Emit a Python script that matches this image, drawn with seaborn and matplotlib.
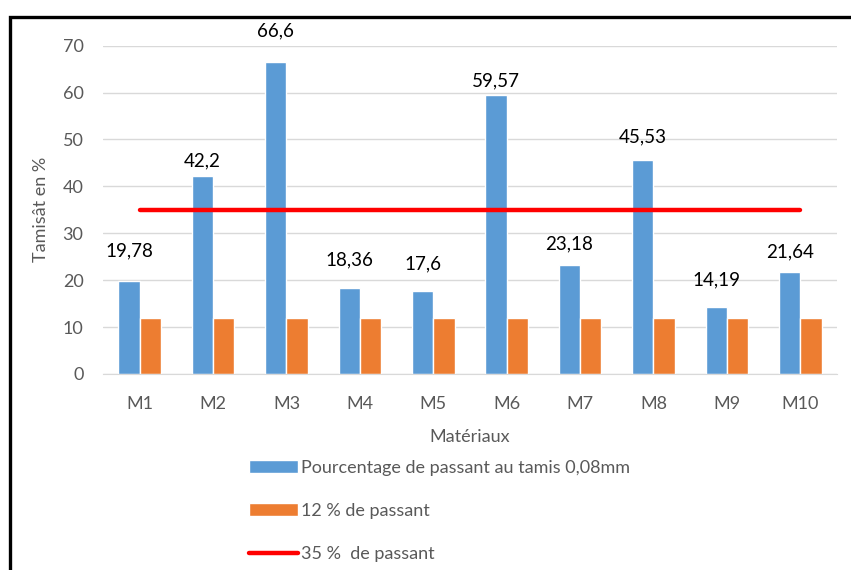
import numpy as np
import pandas as pd
import matplotlib
matplotlib.use("Agg")
import matplotlib.pyplot as plt
import seaborn as sns
from matplotlib.patches import Patch, Rectangle
from matplotlib.lines import Line2D

# === DATA ===
materiaux = ["M1", "M2", "M3", "M4", "M5", "M6", "M7", "M8", "M9", "M10"]
passant_008 = [19.78, 42.2, 66.6, 18.36, 17.6, 59.57, 23.18, 45.53, 14.19, 21.64]
seuil_12 = [12] * len(materiaux)
seuil_35 = [35] * len(materiaux)
noms = ["Pourcentage de passant au tamis 0,08mm", "12 % de passant", "35 %  de passant"]
# vertical gap (points) between each blue bar top and its value label
label_gap = [22, 11, 22, 20, 20, 10, 15, 17, 20, 15]

df = pd.DataFrame({
    "Matériau": materiaux * 2,
    "Valeur": passant_008 + seuil_12,
    "Série": [noms[0]] * len(materiaux) + [noms[1]] * len(materiaux),
})

sns.set_style("white")
plt.rcParams["font.family"] = ["Lato", "DejaVu Sans"]

blue = "#5B9BD5"
orange = "#ED7D31"
grey = "#595959"

fig = plt.figure(figsize=(8.51, 5.70), dpi=100)
ax = fig.add_axes([0.121, 0.344, 0.8625, 0.576])

sns.barplot(data=df, x="Matériau", y="Valeur", hue="Série",
            palette=[blue, orange], width=0.58, saturation=1,
            legend=False, ax=ax, zorder=2)
sns.lineplot(x=np.arange(len(materiaux)), y=seuil_35, color="#FF0000",
             lw=3.2, solid_capstyle="round", ax=ax, zorder=3, legend=False)

# value labels above the blue bars
bar_w = 0.29
for i, v in enumerate(passant_008):
    ax.annotate(f"{v:g}".replace(".", ","), (i - bar_w / 2, v),
                xytext=(0, label_gap[i]), textcoords="offset points",
                ha="center", va="center", fontsize=13.5, color="black",
                annotation_clip=False)

ax.set_xlim(-0.5, len(materiaux) - 0.5)
ax.set_ylim(0, 70)
ax.set_yticks(range(0, 71, 10))
ax.grid(axis="y", color="#D9D9D9", lw=1)
ax.set_axisbelow(True)
for s in ["top", "right", "left"]:
    ax.spines[s].set_visible(False)
ax.spines["bottom"].set_color("#D9D9D9")
ax.tick_params(axis="y", length=0, pad=14, labelsize=13, labelcolor=grey)
ax.tick_params(axis="x", length=0, pad=16, labelsize=13, labelcolor=grey)
ax.set_xlabel("Matériaux", fontsize=13, color=grey, labelpad=12)
ax.set_ylabel("Tamisât en %", fontsize=13, color=grey, labelpad=10)

handles = [Patch(facecolor=blue), Patch(facecolor=orange),
           Line2D([], [], color="#FF0000", lw=3.2, solid_capstyle="round")]
fig.legend(handles, noms, loc="upper left", bbox_to_anchor=(0.293, 0.193),
           frameon=False, fontsize=13, labelcolor=grey, handlelength=2.7,
           handleheight=0.7, handletextpad=0.15, labelspacing=1.5,
           borderaxespad=0, borderpad=0)

# black frame around the chart (cut off on the right and bottom)
fig.patches.append(Rectangle((10 / 851, -0.2), 1.2, 1.2 - 17 / 570,
                             transform=fig.transFigure, fill=False,
                             edgecolor="black", lw=2.4))

fig.savefig("out.png", dpi=100)
